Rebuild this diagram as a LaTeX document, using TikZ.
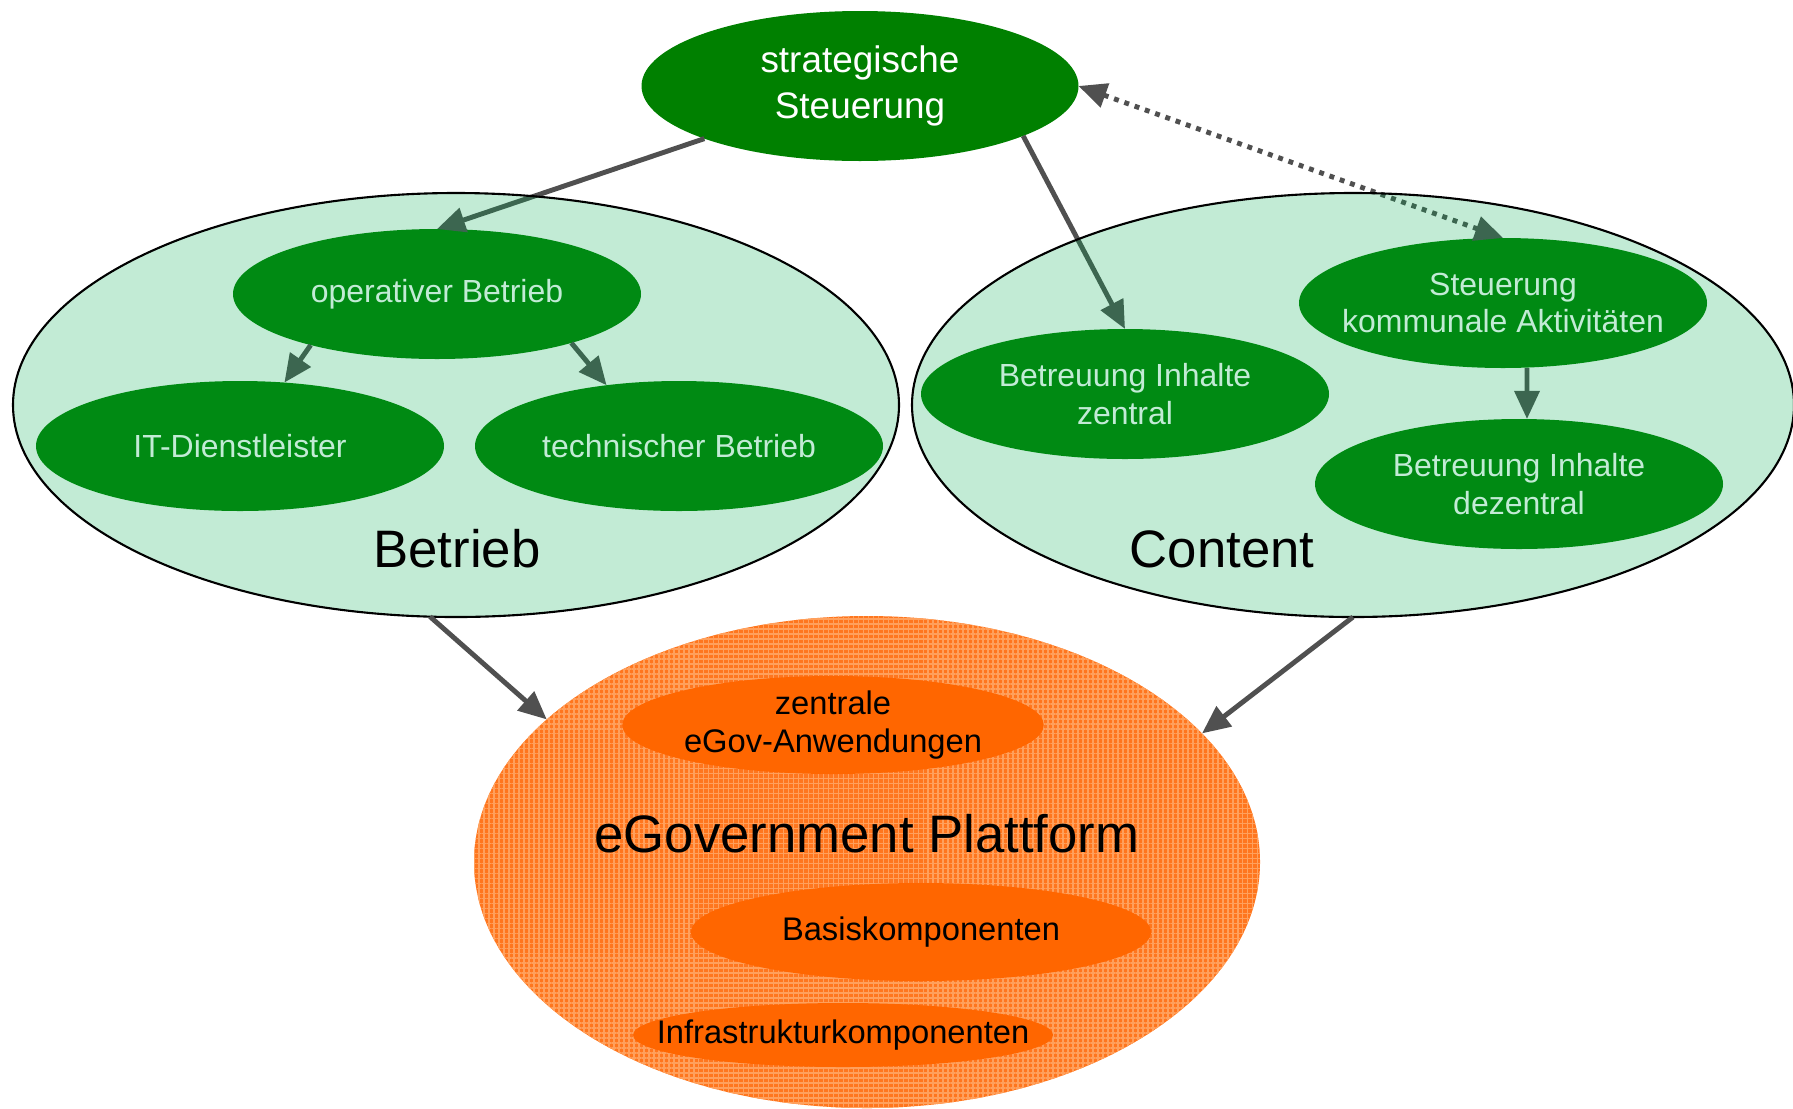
\documentclass[tikz,border=0pt]{standalone}
\usepackage{fontspec}
\setmainfont{Liberation Sans}
\usetikzlibrary{shapes.geometric,arrows.meta,patterns.meta}

\definecolor{darkgreen}{RGB}{0,128,0}
\definecolor{mint}{RGB}{0,172,80}
\definecolor{arrowgray}{RGB}{80,80,80}
\definecolor{platorange}{RGB}{255,118,30}
\definecolor{gridorange}{RGB}{255,160,92}
\definecolor{partorange}{RGB}{255,102,0}

\tikzset{
  greennode/.style={ellipse, fill=darkgreen, text=white, inner sep=0pt, outer sep=0pt,
    minimum width=4.08cm, minimum height=1.30cm, align=center,
    font=\fontsize{9.1pt}{10.8pt}\selectfont},
  areanode/.style={ellipse, draw=black, line width=0.6pt, fill=mint, fill opacity=0.24,
    inner sep=0pt, outer sep=0pt, minimum width=8.86cm, minimum height=4.24cm},
  partnode/.style={ellipse, fill=partorange, inner sep=0pt, outer sep=0pt, align=center,
    font=\fontsize{9.3pt}{10.8pt}\selectfont},
  biglabel/.style={font=\fontsize{15pt}{18pt}\selectfont},
  arr/.style={draw=arrowgray, line width=1.4pt, -{Triangle[length=8pt,width=7pt]}},
}

\begin{document}
\begin{tikzpicture}
\useasboundingbox (0,0) rectangle (17.93,-11.08);

% Steuerung oben
\node[greennode, minimum width=4.37cm, minimum height=1.50cm,
  font=\fontsize{10.5pt}{13pt}\selectfont] (strat) at (8.60,-0.86) {strategische\\Steuerung};

% Knoten im Bereich Betrieb
\node[greennode] (op) at (4.37,-2.94) {operativer Betrieb};
\node[greennode] (it) at (2.40,-4.46) {IT-Dienstleister};
\node[greennode] (tech) at (6.79,-4.46) {technischer Betrieb};

% Knoten im Bereich Content
\node[greennode] (zentral) at (11.25,-3.94) {Betreuung Inhalte\\zentral};
\node[greennode, inner xsep=-2mm] (steu) at (15.03,-3.03) {Steuerung\\kommunale Aktivitäten};
\node[greennode] (dez) at (15.19,-4.84) {Betreuung Inhalte\\dezentral};

% Pfeile
\draw[arr] (strat) -- (op.north);
\draw[arr] (strat.-17) -- (zentral.north);
\draw[arr, {Triangle[length=8pt,width=7pt]}-{Triangle[length=8pt,width=7pt]},
  dash pattern=on 1.4pt off 1.7pt] (strat.east) -- (steu.north);
\draw[arr] (op.202) -- (it.55);
\draw[arr] (op.-20) -- (tech.140);
\draw[arr] ([xshift=2.4mm]steu.south) -- ([xshift=0.8mm]dez.north);

% Bereiche (halbtransparent)
\node[areanode] (betrieb) at (4.56,-4.05) {};
\node[areanode, minimum width=8.82cm] (content) at (13.53,-4.05) {};
\node[biglabel] (betriebtxt) at (4.57,-5.49) {Betrieb};
\node[biglabel] (contenttxt) at (12.22,-5.49) {Content};

% Plattform
\node[ellipse, inner sep=0pt, outer sep=0pt, minimum width=7.86cm, minimum height=4.92cm,
  preaction={fill=platorange},
  pattern={Hatch[angle=0, distance=1.42pt, line width=0.45pt]}, pattern color=gridorange]
  (egov) at (8.67,-8.62) {};
\node[partnode, minimum width=4.20cm, minimum height=0.98cm] (anw) at (8.33,-7.25) {zentrale\\eGov-Anwendungen};
\node[partnode, minimum width=4.60cm, minimum height=0.98cm] (basis) at (9.21,-9.32) {Basiskomponenten};
\node[partnode, inner xsep=-4mm, minimum width=4.20cm, minimum height=0.64cm] (infra) at (8.43,-10.35) {Infrastrukturkomponenten};
\node[biglabel] (egovtxt) at (8.67,-8.34) {eGovernment Plattform};

\draw[arr] (betrieb.-97) -- (egov.156);
\draw[arr] (content.south) -- (egov.21);
\end{tikzpicture}
\end{document}
